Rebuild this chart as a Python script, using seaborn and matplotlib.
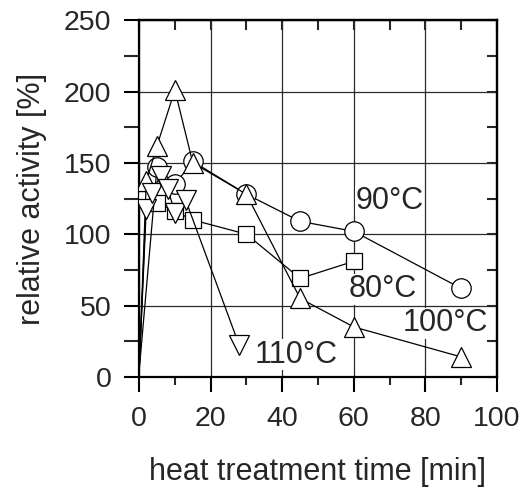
import pandas as pd
import seaborn as sns
import matplotlib.pyplot as plt
from matplotlib.ticker import MultipleLocator

sns.set_style('white')
plt.rcParams['font.family'] = ['Liberation Sans', 'DejaVu Sans']

# data (time in min, activity in %)
t_80 = [0, 2, 5, 10, 15, 30, 45, 60]
y_80 = [4, 125, 122, 116, 110, 100, 69, 81]

t_90 = [0, 5, 10, 15, 30, 45, 60, 90]
y_90 = [4, 147, 135, 151, 128, 109, 102, 62]

t_100 = [0, 2, 5, 10, 15, 30, 45, 60, 90]
y_100 = [4, 137, 162, 201, 150, 128, 55, 35, 14]

t_110 = [0, 2, 3.5, 6, 8, 10, 13, 28]
y_110 = [4, 118, 129, 141, 132, 115, 124, 22]

labels = ['80°C', '90°C', '100°C', '110°C']
label_x = [68, 70, 85.5, 44]
label_y = [61.5, 123.5, 37.5, 15.5]

series = [
    (t_80, y_80, 's', 12),
    (t_90, y_90, 'o', 14),
    (t_100, y_100, '^', 15),
    (t_110, y_110, 'v', 15),
]

fig, ax = plt.subplots(figsize=(5.23, 4.92), dpi=100)
fig.subplots_adjust(left=0.266, right=0.950, top=0.959, bottom=0.234)

for t, y, m, ms in series:
    df = pd.DataFrame({'time': t, 'activity': y})
    sns.lineplot(data=df, x='time', y='activity', ax=ax, color='black',
                 lw=0.9, marker=m, markersize=ms, markerfacecolor='white',
                 markeredgecolor='black', markeredgewidth=0.9,
                 markevery=list(range(1, len(t))), sort=False, zorder=3)

for lab, lx, ly in zip(labels, label_x, label_y):
    ax.text(lx, ly, lab, fontsize=22, ha='center', va='center', zorder=4,
            bbox=dict(facecolor='white', edgecolor='none', pad=0.5))

ax.set_xlim(0, 100)
ax.set_ylim(0, 250)
ax.xaxis.set_major_locator(MultipleLocator(20))
ax.xaxis.set_minor_locator(MultipleLocator(10))
ax.yaxis.set_major_locator(MultipleLocator(50))
ax.yaxis.set_minor_locator(MultipleLocator(25))
ax.grid(True, which='major', color='#2a2a2a', lw=0.9, zorder=0)
ax.set_axisbelow(True)

ax.set_xlabel('heat treatment time [min]', fontsize=22, labelpad=18)
ax.set_ylabel('relative activity [%]', fontsize=22, labelpad=12)
ax.tick_params(axis='both', which='both', bottom=True, left=True)
ax.tick_params(axis='both', which='major', direction='out', length=11,
               width=1.5, labelsize=20.5, color='black')
ax.tick_params(axis='x', which='major', pad=10)
ax.tick_params(axis='y', which='major', pad=9)
ax.tick_params(axis='x', which='minor', direction='out', length=6, width=1.5)
ax.tick_params(axis='y', which='minor', direction='out', length=11, width=1.5)

for s in ax.spines.values():
    s.set_linewidth(1.6)
    s.set_color('black')

top = ax.secondary_xaxis('top')
top.xaxis.set_major_locator(MultipleLocator(10))
top.tick_params(top=True, direction='in', length=7, width=1.5, labeltop=False)
top.spines['top'].set_linewidth(1.6)
right = ax.secondary_yaxis('right')
right.yaxis.set_major_locator(MultipleLocator(25))
right.tick_params(right=True, direction='in', length=7, width=1.5, labelright=False)
right.spines['right'].set_linewidth(1.6)

plt.savefig('out.png', dpi=100)
